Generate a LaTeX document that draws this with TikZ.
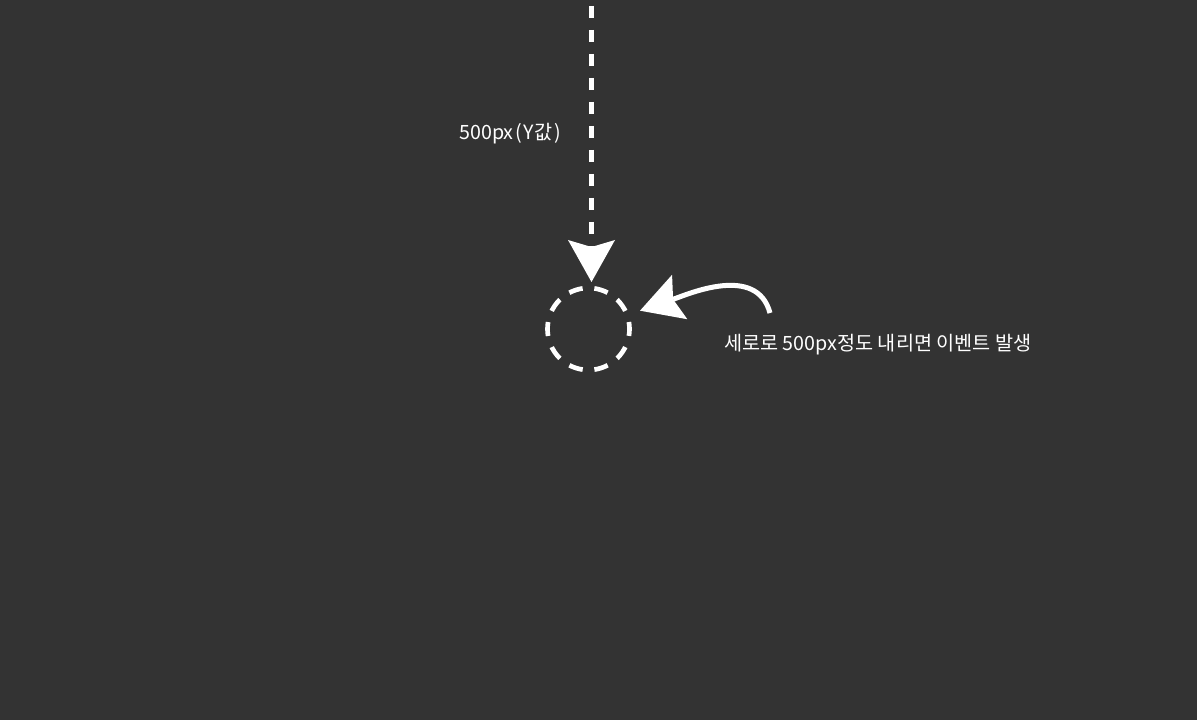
\documentclass[tikz,border=0pt]{standalone}
\usepackage{fontspec}
\setmainfont{Noto Sans CJK KR}
\usetikzlibrary{arrows.meta}
\definecolor{bg}{HTML}{333333}
\begin{document}
\begin{tikzpicture}[x=0.75pt,y=0.75pt,
  bigtip/.style={-{Stealth[length=31.5pt,width=35.25pt,inset=5.25pt,line width=0pt]}},
  vdash/.style={draw=white,line width=3.75pt,dash pattern=on 9pt off 9pt,bigtip},
  curvearrow/.style={draw=white,line width=3.75pt,bigtip},
  ring/.style={draw=white,circle,line width=3.5pt,minimum size=61.5pt,inner sep=0pt,dash pattern=on 10.5pt off 8.82pt,dash phase=5.25pt},
  label/.style={text=white,inner sep=0pt,anchor=base west,font=\fontsize{14.75pt}{18pt}\selectfont}]
\fill[bg] (0,0) rectangle (1197,-720);
\useasboundingbox (0,0) rectangle (1197,-720);
\node[ring] (c) at (588.5,-329) {};
\coordinate (top) at (591.5,-6);
\coordinate (vtip) at (591.5,-282);
\draw[vdash] (top) -- (vtip);
\coordinate (cstart) at (770,-313);
\coordinate (ctip) at (640,-310.7);
\draw[curvearrow] (cstart) to[out=105,in=19] (ctip);
\node[label] (t1) at (459,-140) {500px\hspace{1.2pt}(\hspace{1.5pt}Y값\hspace{1.5pt})};
\node[label] (t2) at (724,-351) {세로로 500px정도 내리면 이벤트 발생};
\end{tikzpicture}
\end{document}
